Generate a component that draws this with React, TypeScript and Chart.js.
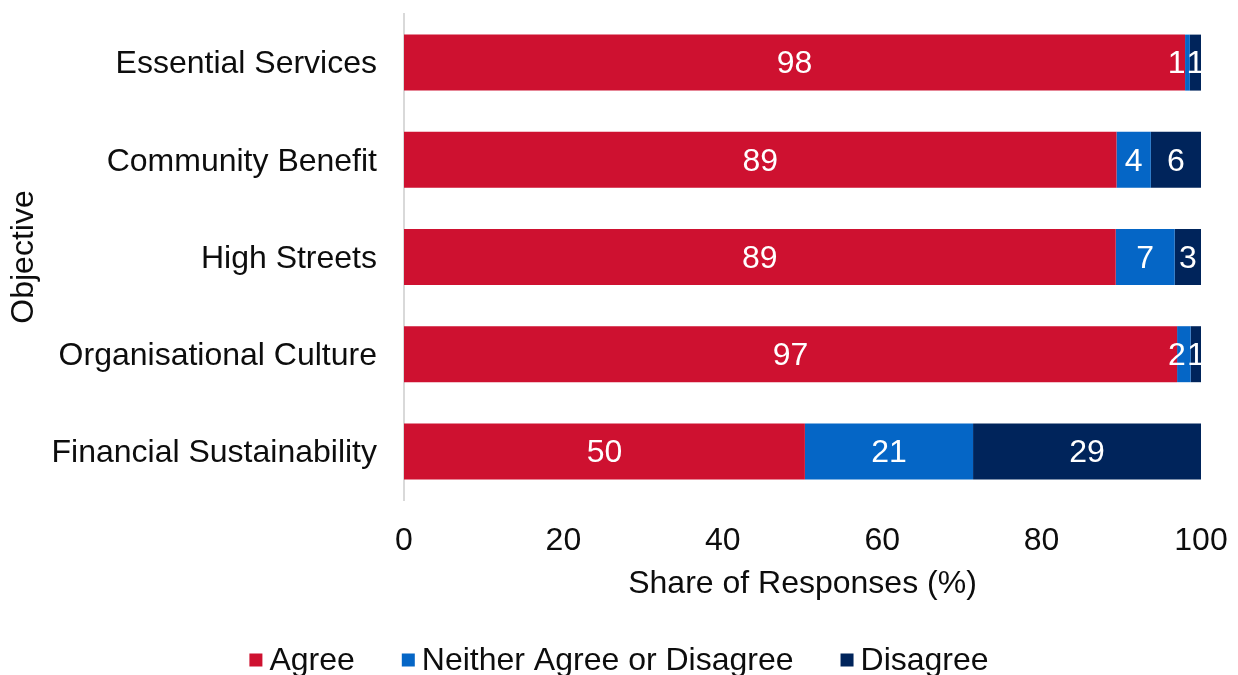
import React, { useEffect, useRef } from "react";
import { Chart, registerables } from "chart.js";

Chart.register(...registerables);

const categories = [
  "Essential Services",
  "Community Benefit",
  "High Streets",
  "Organisational Culture",
  "Financial Sustainability",
];
const agree = [98.0, 89.4, 89.3, 97.0, 50.3];
const neither = [0.6, 4.3, 7.4, 1.7, 21.1];
const disagree = [1.4, 6.3, 3.3, 1.3, 28.6];
const seriesNames = ["Agree", "Neither Agree or Disagree", "Disagree"];
const xTicks = [0, 20, 40, 60, 80, 100];

const FONT = "'Liberation Sans', Arial, sans-serif";
const COLORS = ["#CE1130", "#0566C6", "#00245B"];
const TEXT = "#0d0d0d";

const labelPlugin = {
  id: "segLabels",
  afterDatasetsDraw(chart: any) {
    const ctx = chart.ctx;
    ctx.save();
    ctx.font = `32px ${FONT}`;
    ctx.fillStyle = "#ffffff";
    ctx.textAlign = "center";
    ctx.textBaseline = "middle";
    const n = chart.data.labels.length;
    for (let i = 0; i < n; i++) {
      const items: any[] = [];
      chart.data.datasets.forEach((ds: any, d: number) => {
        const el = chart.getDatasetMeta(d).data[i];
        if (!el) return;
        const text = String(Math.round(ds.data[i]));
        items.push({
          cx: (el.x + el.base) / 2,
          y: el.y,
          text,
          w: ctx.measureText(text).width,
        });
      });
      for (let k = items.length - 2; k >= 0; k--) {
        const maxRight = items[k + 1].cx - items[k + 1].w / 2 - 1;
        if (items[k].cx + items[k].w / 2 > maxRight) {
          items[k].cx = maxRight - items[k].w / 2;
        }
      }
      items.forEach((it) => ctx.fillText(it.text, it.cx, it.y + 2));
    }
    ctx.restore();
  },
};

const legendPlugin = {
  id: "customLegend",
  afterDraw(chart: any) {
    const ctx = chart.ctx;
    ctx.save();
    ctx.font = `32px ${FONT}`;
    ctx.textBaseline = "middle";
    ctx.textAlign = "left";
    const box = 13;
    const gapText = 7;
    const gapItem = 47;
    const items = chart.data.datasets.map((ds: any) => ({
      text: ds.label,
      color: ds.backgroundColor,
      w: ctx.measureText(ds.label).width,
    }));
    let total = 0;
    items.forEach((it: any, i: number) => {
      total += box + gapText + it.w + (i < items.length - 1 ? gapItem : 0);
    });
    let x = (chart.width - total) / 2;
    const y = 660;
    items.forEach((it: any) => {
      ctx.fillStyle = it.color;
      ctx.fillRect(x, y - box / 2, box, box);
      ctx.fillStyle = TEXT;
      ctx.fillText(it.text, x + box + gapText, y + 1);
      x += box + gapText + it.w + gapItem;
    });
    ctx.restore();
  },
};

export default function App() {
  const ref = useRef<HTMLCanvasElement | null>(null);
  useEffect(() => {
    if (!ref.current) return;
    const values = [agree, neither, disagree];
    const chart = new Chart(ref.current, {
      type: "bar",
      data: {
        labels: categories,
        datasets: seriesNames.map((name, i) => ({
          label: name,
          data: values[i],
          backgroundColor: COLORS[i],
          borderWidth: 0,
          barPercentage: 0.576,
          categoryPercentage: 1,
        })),
      },
      options: {
        indexAxis: "y",
        responsive: false,
        animation: false,
        layout: { padding: { left: 0, top: 14, right: 37, bottom: 65 } },
        plugins: {
          legend: { display: false },
          tooltip: { enabled: false },
        },
        scales: {
          x: {
            stacked: true,
            min: 0,
            max: 100,
            afterBuildTicks: (scale: any) => {
              scale.ticks = xTicks.map((v) => ({ value: v }));
            },
            afterFit: (scale: any) => {
              scale.height = 110;
              scale.paddingLeft = 0;
              scale.paddingRight = 0;
            },
            grid: { display: false, drawTicks: false },
            border: { display: false },
            ticks: {
              padding: 22,
              color: TEXT,
              font: { family: FONT, size: 32 },
              maxRotation: 0,
            },
            title: {
              display: true,
              text: "Share of Responses (%)",
              color: TEXT,
              font: { family: FONT, size: 32 },
              padding: { top: 0, bottom: 7 },
            },
          },
          y: {
            stacked: true,
            afterFit: (scale: any) => {
              scale.width = 404;
              scale.paddingTop = 0;
              scale.paddingBottom = 0;
            },
            grid: { display: false, drawTicks: false },
            border: { display: true, color: "#d9d9d9", width: 2 },
            ticks: {
              padding: 27,
              labelOffset: 2,
              color: TEXT,
              font: { family: FONT, size: 32 },
            },
            title: {
              display: true,
              text: "Objective",
              color: TEXT,
              font: { family: FONT, size: 32 },
              padding: { top: 5, bottom: 0 },
            },
          },
        },
      },
      plugins: [labelPlugin, legendPlugin],
    } as any);
    return () => chart.destroy();
  }, []);
  return (
    <canvas
      ref={ref}
      width={1238}
      height={675}
      style={{ position: "fixed", left: 0, top: 0, display: "block" }}
    />
  );
}
